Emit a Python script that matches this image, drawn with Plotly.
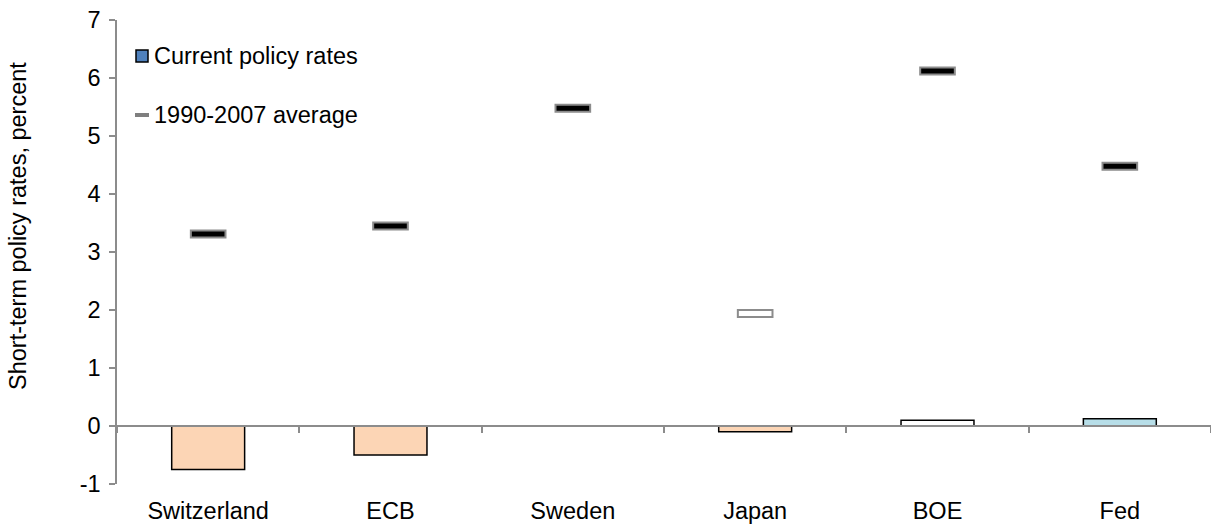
import plotly.graph_objects as go

categories = ["Switzerland", "ECB", "Sweden", "Japan", "BOE", "Fed"]
current_rates = [-0.75, -0.5, 0.0, -0.1, 0.1, 0.125]
avg_1990_2007 = [3.31, 3.45, 5.48, 1.94, 6.12, 4.48]
current_colors = ["#FCD5B5", "#FCD5B5", "#FCD5B5", "#FCD5B5", "#FFFFFF", "#B7DEE8"]
avg_colors = ["#000000", "#000000", "#000000", "#FFFFFF", "#000000", "#000000"]
y_ticks = [-1, 0, 1, 2, 3, 4, 5, 6, 7]
y_ticktext = ["-1", "0", "1", "2", "3", "4", "5", "6", "7"]
legend_labels = ["Current policy rates", "1990-2007 average"]
y_title = "Short-term policy rates, percent"

FONT = "Liberation Sans, Arial, sans-serif"
FS = 23.5
marker_h = 0.12

W, H = 1211, 525
ML, MR, MT, MB = 117, 0, 20, 41
PW, PH = W - ML - MR, H - MT - MB


def px_x(px):
    return (px - ML) / PW


def px_y(py):
    return (H - MB - py) / PH


fig = go.Figure()

fig.add_trace(go.Bar(
    x=categories, y=current_rates, width=0.4,
    marker=dict(color=current_colors, line=dict(color="#000000", width=1.5)),
    showlegend=False, hoverinfo="skip",
))

fig.add_trace(go.Bar(
    x=categories, y=[marker_h] * len(categories),
    base=[v - marker_h / 2 for v in avg_1990_2007], width=0.19,
    marker=dict(color=avg_colors, line=dict(color="#8C8C8C", width=2)),
    showlegend=False, hoverinfo="skip",
))

# zero line with boundary ticks
fig.add_trace(go.Scatter(
    x=categories, y=[None] * len(categories), xaxis="x2", showlegend=False,
    hoverinfo="skip",
))

shapes = [
    dict(type="rect", xref="paper", yref="paper",
         x0=px_x(136), x1=px_x(148), y0=px_y(62), y1=px_y(50),
         fillcolor="#4F81BD", line=dict(color="#000000", width=1.5)),
    dict(type="line", xref="paper", yref="paper",
         x0=px_x(135), x1=px_x(149), y0=px_y(115), y1=px_y(115),
         line=dict(color="#7F7F7F", width=4)),
]
annotations = [
    dict(text=legend_labels[0], xref="paper", yref="paper",
         x=px_x(152), y=px_y(56), xanchor="left", yanchor="middle",
         showarrow=False, font=dict(family=FONT, size=FS, color="#000000")),
    dict(text=legend_labels[1], xref="paper", yref="paper",
         x=px_x(152), y=px_y(115), xanchor="left", yanchor="middle",
         showarrow=False, font=dict(family=FONT, size=FS, color="#000000")),
    dict(text=y_title, xref="paper", yref="paper", textangle=-90,
         x=px_x(18), y=px_y(226), xanchor="center", yanchor="middle",
         showarrow=False, font=dict(family=FONT, size=FS, color="#000000")),
]

fig.update_layout(
    width=W, height=H,
    margin=dict(l=ML, r=MR, t=MT, b=MB, autoexpand=False),
    paper_bgcolor="white", plot_bgcolor="white",
    barmode="overlay",
    font=dict(family=FONT, size=FS, color="#000000"),
    showlegend=False,
    shapes=shapes,
    annotations=annotations,
    xaxis=dict(
        type="category", categoryorder="array", categoryarray=categories,
        range=[-0.5, 5.5], showline=False, ticks="", showgrid=False,
        zeroline=False, ticklabelstandoff=10, automargin=False,
        tickfont=dict(family=FONT, size=FS, color="#000000"),
    ),
    xaxis2=dict(
        type="category", categoryorder="array", categoryarray=categories,
        range=[-0.5, 5.5], overlaying="x", anchor="free", position=0.125,
        showline=True, linecolor="#8C8C8C", linewidth=1.5,
        ticks="outside", tickson="boundaries", ticklen=6, tickwidth=1.5,
        tickcolor="#8C8C8C", showticklabels=False, showgrid=False,
        zeroline=False, automargin=False,
    ),
    yaxis=dict(
        range=[-1, 7], tickvals=y_ticks, ticktext=y_ticktext,
        showgrid=False, zeroline=False, automargin=False,
        showline=True, linecolor="#8C8C8C", linewidth=1.5,
        ticks="outside", ticklen=6, tickwidth=1.5, tickcolor="#8C8C8C",
        ticklabelstandoff=4,
        tickfont=dict(family=FONT, size=FS, color="#000000"),
    ),
)

fig.write_html(
    "out.html",
    config={"displayModeBar": False},
    post_script="document.body.style.margin='0';document.body.style.overflow='hidden';",
)
